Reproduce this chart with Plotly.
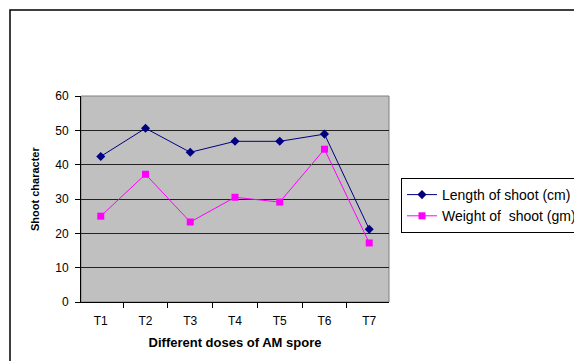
import plotly.graph_objects as go

categories = ["T1", "T2", "T3", "T4", "T5", "T6", "T7"]
length_shoot = [42.4, 50.6, 43.6, 46.8, 46.8, 48.9, 21.2]
weight_shoot = [25.0, 37.2, 23.3, 30.5, 29.1, 44.5, 17.2]
y_ticks = [0, 10, 20, 30, 40, 50, 60]

OFF = 8  # browser body margin
W, H = 582 - OFF, 361 - OFF
# plot area in page pixels, converted to figure pixels
L, R, T, B = 81 - OFF, 389 - OFF, 96 - OFF, 302 - OFF

def px(x):
    return (x - OFF - L) / (R - L)

def py(y):
    return (B - (y - OFF)) / (B - T)

fig = go.Figure()
fig.add_trace(go.Scatter(
    x=categories, y=length_shoot, name="Length of shoot (cm)",
    mode="lines+markers",
    line=dict(color="#000080", width=1),
    marker=dict(symbol="diamond", size=7, color="#000080"),
))
fig.add_trace(go.Scatter(
    x=categories, y=weight_shoot, name="Weight of  shoot (gm)",
    mode="lines+markers",
    line=dict(color="#FF00FF", width=1),
    marker=dict(symbol="square", size=7, color="#FF00FF"),
))

font = "Liberation Sans, Arial, sans-serif"

fig.update_layout(
    width=W, height=H,
    margin=dict(l=L, r=W - R, t=T, b=H - B, autoexpand=False),
    paper_bgcolor="white",
    plot_bgcolor="#C0C0C0",
    font=dict(family=font, size=12, color="black"),
    showlegend=True,
    legend=dict(
        x=px(401), y=py(178), xanchor="left", yanchor="top",
        bgcolor="white", bordercolor="black", borderwidth=1,
        font=dict(size=14, family=font),
        tracegroupgap=0, itemwidth=30,
    ),
    xaxis=dict(
        type="category", categoryorder="array", categoryarray=categories,
        showgrid=False, showline=True, linecolor="black", linewidth=1,
        ticks="outside", tickson="boundaries", ticklen=5, tickcolor="black",
        tickfont=dict(size=12), ticklabelstandoff=8,
        title=dict(text="<b>Different doses of AM spore</b>", font=dict(size=13), standoff=10),
        zeroline=False,
    ),
    yaxis=dict(
        range=[0, 60], tickvals=y_ticks,
        showgrid=True, gridcolor="#222222", gridwidth=1,
        showline=True, linecolor="black", linewidth=1,
        ticks="outside", ticklen=5, tickcolor="black",
        tickfont=dict(size=12), ticklabelstandoff=4,
        zeroline=False,
    ),
    annotations=[
        dict(text="<b>Shoot character</b>", textangle=-90, showarrow=False,
             xref="paper", yref="paper", x=px(35), y=py(189),
             xanchor="center", yanchor="middle", font=dict(size=11)),
    ],
    shapes=[
        dict(type="rect", xref="paper", yref="paper",
             x0=0, x1=1, y0=0, y1=1, line=dict(color="#808080", width=1), layer="below"),
        dict(type="rect", xref="paper", yref="paper",
             x0=px(10), x1=px(600), y0=py(380), y1=py(10),
             line=dict(color="black", width=1.5)),
    ],
)

fig.write_html("out.html")
